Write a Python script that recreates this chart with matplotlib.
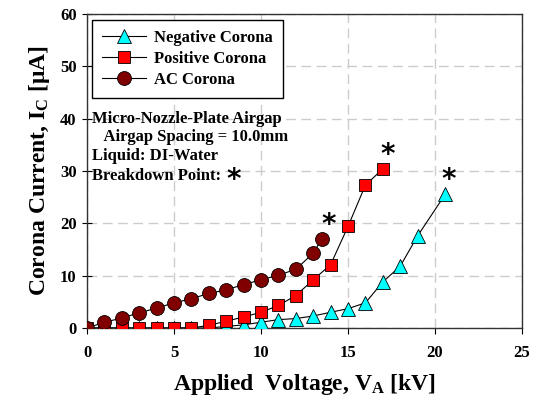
import matplotlib
matplotlib.use("Agg")
import matplotlib.pyplot as plt

neg_x = [0, 1, 2, 3, 4, 5, 6, 7, 8, 9, 10, 11, 12, 13, 14, 15, 16, 17, 18, 19, 20.6]
neg_y = [0, 0, 0, 0, 0, 0, 0, 0, 0.3, 0.6, 1.1, 1.6, 1.8, 2.3, 3.0, 3.7, 4.8, 8.8, 11.8, 17.6, 25.6]
pos_x = [0, 1, 2, 3, 4, 5, 6, 7, 8, 9, 10, 11, 12, 13, 14, 15, 16, 17]
pos_y = [0, 0, 0, 0, 0, 0, 0, 0.5, 1.3, 2.1, 3.0, 4.3, 6.2, 9.2, 12.1, 19.4, 27.3, 30.4]
ac_x = [0, 1, 2, 3, 4, 5, 6, 7, 8, 9, 10, 11, 12, 13, 13.5]
ac_y = [0, 1.1, 1.9, 2.9, 3.8, 4.8, 5.6, 6.6, 7.3, 8.3, 9.2, 10.1, 11.2, 14.3, 17.0]
breakdown_x = [13.9, 17.3, 20.8]
breakdown_y = [19.7, 33.1, 28.3]
xticks = [0, 5, 10, 15, 20, 25]
yticks = [0, 10, 20, 30, 40, 50, 60]

plt.rcParams['font.family'] = ['Liberation Serif', 'DejaVu Serif']
plt.rcParams['font.weight'] = 'bold'
plt.rcParams['mathtext.fontset'] = 'custom'
plt.rcParams['mathtext.rm'] = 'Liberation Serif:bold'
plt.rcParams['mathtext.bf'] = 'Liberation Serif:bold'
plt.rcParams['mathtext.it'] = 'Liberation Serif:bold'

fig = plt.figure(figsize=(5.42, 4.03), dpi=100)
ax = fig.add_axes([87/542, 1-328/403, (522-87)/542, (328-14)/403])

ax.plot(neg_x, neg_y, '-', color='black', lw=0.8, marker='^', ms=9.5,
        mfc='#00FFFF', mec='black', mew=0.6, label='Negative Corona', zorder=3)
ax.plot(pos_x, pos_y, '-', color='black', lw=0.8, marker='s', ms=9,
        mfc='#FF0000', mec='black', mew=0.6, label='Positive Corona', zorder=4)
ax.plot(ac_x, ac_y, '-', color='black', lw=0.8, marker='o', ms=10,
        mfc='#800000', mec='black', mew=0.6, label='AC Corona', zorder=5)

for bx, by in zip(breakdown_x, breakdown_y):
    ax.text(bx, by, '*', fontsize=20, fontweight='bold', ha='center', va='center',
            family='DejaVu Sans', zorder=6)

ax.set_xlim(0, 25)
ax.set_ylim(0, 60)
ax.set_xticks(xticks)
ax.set_xticklabels([str(t) for t in xticks], fontsize=12, fontweight='bold')
ax.set_yticks(yticks)
ax.set_yticklabels([str(t) for t in yticks], fontsize=12, fontweight='bold')
ax.tick_params(axis='x', direction='out', length=4, pad=8)
ax.tick_params(axis='y', direction='inout', length=7, pad=4)

ax.grid(True, color='#cccccc', linestyle=(0, (7, 4)), lw=1.0, zorder=0)
for s in ax.spines.values():
    s.set_color('#333333')
    s.set_linewidth(1.0)

ax.set_xlabel(r'Applied  Voltage, V$_\mathbf{A}$ [kV]', fontsize=17, fontweight='bold', labelpad=8)
ax.set_ylabel('Corona Current, I$_\\mathbf{C}$ [\u03bcA]', fontsize=17, fontweight='bold', labelpad=6)

leg = ax.legend(loc='upper left', bbox_to_anchor=(0.012, 0.98),
                prop={'weight': 'bold', 'size': 12}, frameon=True, fancybox=False,
                edgecolor='black', handlelength=2.6, borderpad=0.6, labelspacing=0.3,
                borderaxespad=0.0, handletextpad=0.5)
leg.get_frame().set_linewidth(1.0)
leg.get_frame().set_alpha(1)

ax.text(0.012, 0.692, 'Micro-Nozzle-Plate Airgap\n   Airgap Spacing = 10.0mm\nLiquid: DI-Water',
        transform=ax.transAxes, fontsize=12, fontweight='bold', va='top', ha='left',
        linespacing=1.22)
bp = ax.text(0.012, 0.485, 'Breakdown Point:', transform=ax.transAxes, fontsize=12,
             fontweight='bold', va='center', ha='left')
ax.annotate('*', xy=(1, 0.5), xycoords=bp, xytext=(9, -3), textcoords='offset points',
            fontsize=20, fontweight='bold', family='DejaVu Sans', va='center', ha='center')

fig.savefig('out.png', dpi=100)
